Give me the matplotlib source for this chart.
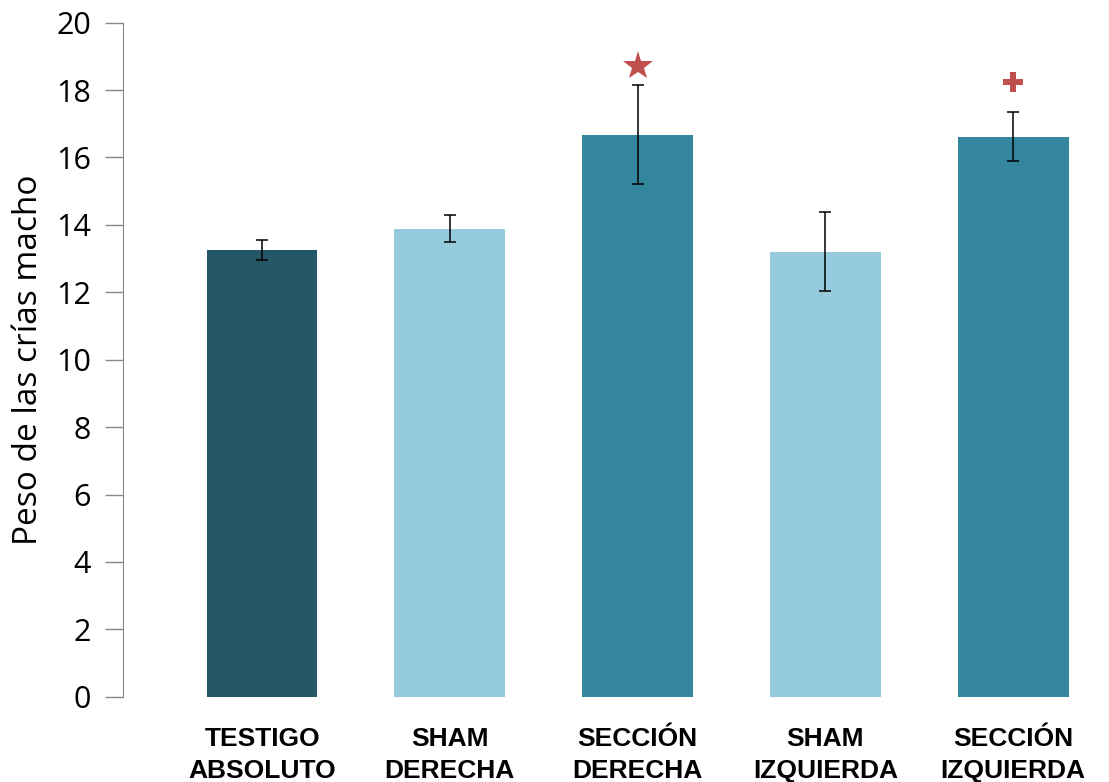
import matplotlib.pyplot as plt

grupos = ["TESTIGO\nABSOLUTO", "SHAM\nDERECHA", "SECCIÓN\nDERECHA", "SHAM\nIZQUIERDA", "SECCIÓN\nIZQUIERDA"]
peso = [13.26, 13.89, 16.68, 13.2, 16.62]
error = [0.3, 0.4, 1.47, 1.17, 0.72]
colores = ["#245866", "#95CBDC", "#33869E", "#95CBDC", "#33869E"]
# marcas de significancia: (indice de barra, valor y, simbolo)
marcas = [(2, 18.7, "*"), (4, 18.25, "P")]

fig = plt.figure(figsize=(11.09, 7.82), dpi=100)
ax = fig.add_axes([0.111, 0.109, 0.889, 0.862])

x = range(len(grupos))
ax.bar(x, peso, width=0.59, color=colores, yerr=error,
       error_kw=dict(ecolor="black", elinewidth=1.1, capsize=4, capthick=1.1))
for i, yv, m in marcas:
    ax.plot(i, yv, marker=m, color="#C0504D", markersize=22 if m == "*" else 14,
            markeredgewidth=0, linestyle="none")

ax.set_ylim(0, 20)
ax.set_xlim(-0.74, 4.51)
ax.set_yticks(range(0, 21, 2))
ax.set_xticks(list(x))
ax.set_xticklabels(grupos, fontsize=19, fontweight="bold", family="Liberation Sans",
                   linespacing=1.4)
ax.tick_params(axis="x", length=0, pad=22)
ax.tick_params(axis="y", labelsize=22, length=13, color="#888888", pad=10, width=1)
for lab in ax.get_yticklabels():
    lab.set_family("Open Sans")
ax.set_ylabel("Peso de las crías macho", fontsize=24, family="Open Sans", labelpad=8)

for s in ["top", "right", "bottom"]:
    ax.spines[s].set_visible(False)
ax.spines["left"].set_color("#888888")

fig.savefig("out.png", dpi=100)
